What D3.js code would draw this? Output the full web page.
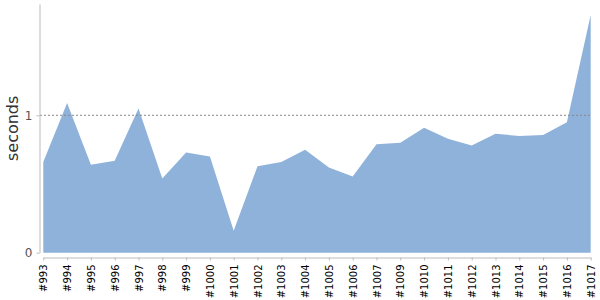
<!DOCTYPE html>
<html>
<head>
<meta charset="utf-8">
<script src="https://cdn.jsdelivr.net/npm/d3@7"></script>
<style>
  body { margin: 0; background: #fff; }
  text { font-family: "DejaVu Sans", sans-serif; }
</style>
</head>
<body>
<div id="canvas"></div>
<script>
"use strict";

/**** DATA ****/
let builds = ["#993", "#994", "#995", "#996", "#997", "#998", "#999", "#1000",
    "#1001", "#1002", "#1003", "#1004", "#1005", "#1006", "#1007", "#1009",
    "#1010", "#1011", "#1012", "#1013", "#1014", "#1015", "#1016", "#1017"];
let seconds = [0.66, 1.09, 0.64, 0.67, 1.05, 0.54, 0.73, 0.70,
    0.16, 0.63, 0.66, 0.75, 0.62, 0.555, 0.79, 0.80,
    0.91, 0.83, 0.78, 0.865, 0.85, 0.857, 0.95, 1.73];
let yTicks = [0, 1];
let yMax = 1.81;

/**** CONFIG ****/
let svgWidth = 600;
let svgHeight = 300;
let plotLeft = 43.3;
let plotRight = 590.7;
let plotTop = 4;
let plotBottom = 252.7;

let svg = d3.select("#canvas")
    .append("svg")
    .attr("width", svgWidth)
    .attr("height", svgHeight)
    .style("display", "block");

/**** SCALES ****/
let xScale = d3.scalePoint()
    .domain(builds)
    .range([plotLeft, plotRight]);

let yScale = d3.scaleLinear()
    .domain([0, yMax])
    .range([plotBottom, plotTop]);

/**** AREA ****/
let area = d3.area()
    .x(function(d, i) { return xScale(builds[i]); })
    .y0(yScale(0))
    .y1(function(d) { return yScale(d); });

svg.append("path")
    .datum(seconds)
    .attr("d", area)
    .attr("fill", "#8fb2da");

/**** GRIDLINE AT 1 ****/
svg.append("line")
    .attr("x1", 40)
    .attr("x2", plotRight)
    .attr("y1", yScale(1))
    .attr("y2", yScale(1))
    .attr("stroke", "#888")
    .attr("stroke-width", 1)
    .attr("stroke-dasharray", "2,2");

/**** Y AXIS ****/
let yAxis = svg.append("g")
    .attr("transform", "translate(39.5,0)")
    .call(d3.axisLeft(yScale).tickValues(yTicks).tickSize(3).tickSizeOuter(0).tickPadding(4).tickFormat(d3.format("d")));
yAxis.select(".domain").attr("stroke", "#bbb");
yAxis.selectAll(".tick line").attr("stroke", "#bbb");
yAxis.selectAll(".tick text")
    .attr("fill", "#555")
    .style("font-size", "12px");

/**** X AXIS ****/
let xAxis = svg.append("g")
    .attr("transform", "translate(0,257.5)")
    .call(d3.axisBottom(xScale).tickSize(3).tickSizeOuter(0));
xAxis.select(".domain").attr("stroke", "#bbb");
xAxis.selectAll(".tick line").attr("stroke", "#bbb");
xAxis.selectAll(".tick text")
    .attr("fill", "#000")
    .style("font-size", "10px")
    .attr("transform", "rotate(-90)")
    .attr("text-anchor", "end")
    .attr("x", -7)
    .attr("y", 0)
    .attr("dy", "0.35em");

/**** AXIS TITLE ****/
svg.append("text")
    .attr("transform", "rotate(-90)")
    .attr("x", -(plotTop + plotBottom) / 2)
    .attr("y", 18)
    .attr("text-anchor", "middle")
    .attr("fill", "#333")
    .style("font-size", "16px")
    .text("seconds");
</script>
</body>
</html>
